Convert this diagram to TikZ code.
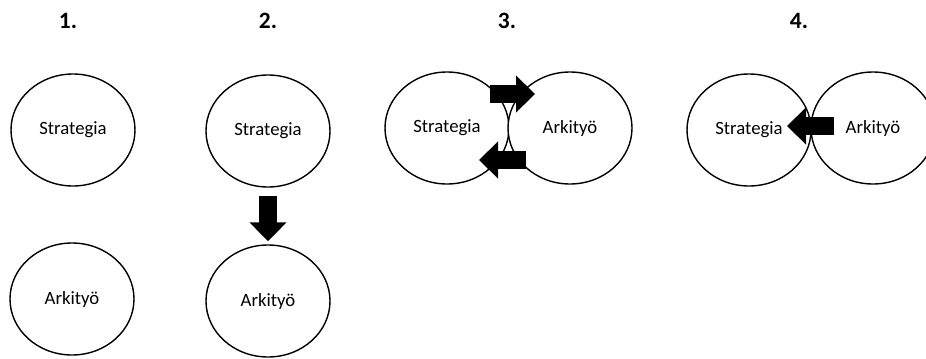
\documentclass[tikz,border=0pt]{standalone}
\usepackage{fontspec}
\setmainfont{Carlito}
\usetikzlibrary{shapes.geometric,arrows.meta}
\begin{document}
\begin{tikzpicture}[x=0.03cm, y=-0.03cm,
  bubble/.style={draw, ellipse, fill=white, line width=1.2pt, minimum width=3.72cm, minimum height=3.36cm, inner sep=0pt, font=\fontsize{16}{19}\selectfont},
  steplabel/.style={font=\bfseries\fontsize{20}{24}\selectfont},
  blockarrow/.style={line width=0.53cm, -{Triangle[width=1.08cm,length=0.57cm]}}]
\useasboundingbox (0,0) rectangle (926,358);
% step numbers
\node (n1)[steplabel] at (68,21) {1.};
\node (n2)[steplabel] at (268,21) {2.};
\node (n3)[steplabel] at (507,21) {3.};
\node (n4)[steplabel] at (799,21) {4.};
% bubbles
\node (s1)[bubble] at (73,130) {Strategia};
\node (a1)[bubble] at (72,299) {Arkityö};
\node (s2)[bubble] at (268,131) {Strategia};
\node (a2)[bubble] at (268,301) {Arkityö};
\node (s3)[bubble] at (447,128) {Strategia};
\node (a3)[bubble] at (570,128) {Arkityö};
\node (s4)[bubble] at (749,130) {Strategia};
\node (a4)[bubble] at (873,128) {Arkityö};
% arrows
\coordinate (u1) at (490,94);
\coordinate (u2) at (535,94);
\coordinate (v1) at (526,160);
\coordinate (v2) at (479,160);
\coordinate (w1) at (834,126);
\coordinate (w2) at (787,126);
\draw[blockarrow, shorten <=0.24cm, shorten >=0.09cm] (s2) -- (a2);
\draw[blockarrow] (u1) -- (u2);
\draw[blockarrow] (v1) -- (v2);
\draw[blockarrow] (w1) -- (w2);
\end{tikzpicture}
\end{document}
